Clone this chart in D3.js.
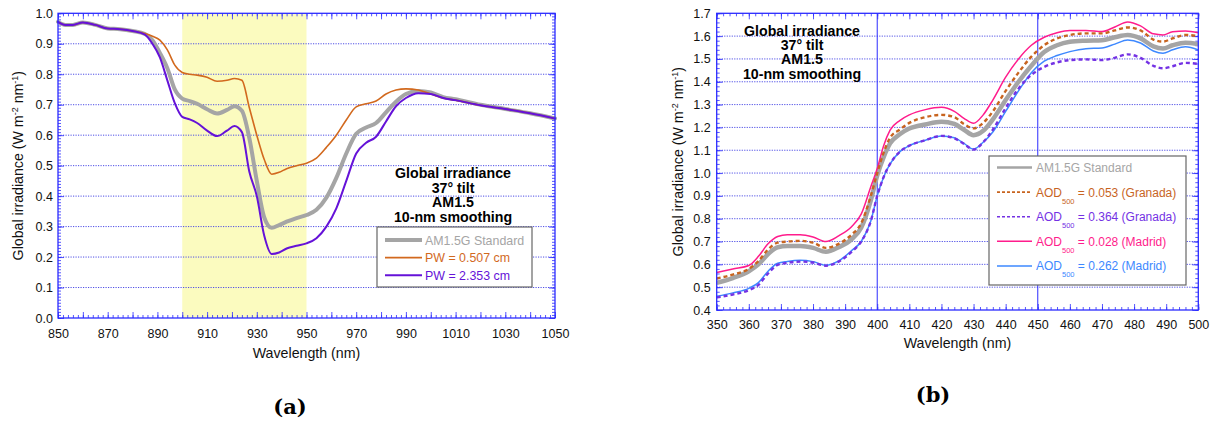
<!DOCTYPE html>
<html>
<head>
<meta charset="utf-8">
<script src="https://cdn.jsdelivr.net/npm/d3@7"></script>
<style>
  body { margin: 0; background: #fff; }
  svg { display: block; font-family: "Liberation Sans", Arial, Helvetica, sans-serif; }
</style>
</head>
<body>
<svg id="fig" width="1213" height="425"></svg>
<script>
// ---------- Panel (a): water-vapour band around 940 nm ----------
const wlA = [850, 853, 856, 860, 865, 870, 875, 880, 885, 888, 891, 894, 897, 900, 903, 906, 910, 914, 918, 921,
             924, 927, 930, 933, 936, 939, 942, 946, 950, 954, 958, 962, 966, 970, 974, 978, 982, 986, 990, 995,
             1000, 1005, 1010, 1020, 1030, 1040, 1050];
const am15gA = [0.972, 0.962, 0.962, 0.970, 0.962, 0.950, 0.948, 0.942, 0.932, 0.912, 0.870, 0.820, 0.750, 0.720, 0.712, 0.703, 0.685, 0.671, 0.683, 0.695,
                0.680, 0.590, 0.450, 0.330, 0.296, 0.305, 0.316, 0.328, 0.338, 0.355, 0.395, 0.460, 0.540, 0.605, 0.625, 0.640, 0.675, 0.710, 0.735, 0.745,
                0.740, 0.725, 0.718, 0.700, 0.686, 0.672, 0.655];
const pw0507 = [0.972, 0.962, 0.962, 0.970, 0.962, 0.950, 0.948, 0.942, 0.934, 0.925, 0.912, 0.880, 0.830, 0.806, 0.800, 0.797, 0.790, 0.777, 0.780, 0.786,
                0.780, 0.690, 0.600, 0.520, 0.472, 0.478, 0.490, 0.500, 0.508, 0.525, 0.560, 0.600, 0.650, 0.693, 0.703, 0.712, 0.735, 0.748, 0.752, 0.748,
                0.735, 0.722, 0.715, 0.698, 0.686, 0.672, 0.655];
const pw2353 = [0.972, 0.962, 0.962, 0.970, 0.962, 0.950, 0.948, 0.942, 0.930, 0.900, 0.855, 0.780, 0.705, 0.660, 0.652, 0.640, 0.615, 0.597, 0.615, 0.630,
                0.610, 0.480, 0.400, 0.270, 0.210, 0.215, 0.228, 0.237, 0.245, 0.262, 0.300, 0.360, 0.450, 0.540, 0.575, 0.595, 0.645, 0.695, 0.722, 0.738,
                0.735, 0.722, 0.715, 0.698, 0.686, 0.672, 0.655];
const bandA = [900, 950];
const xTicksA = [850, 870, 890, 910, 930, 950, 970, 990, 1010, 1030, 1050];
const yTicksA = [0.0, 0.1, 0.2, 0.3, 0.4, 0.5, 0.6, 0.7, 0.8, 0.9, 1.0];
const seriesNamesA = ["AM1.5G Standard", "PW = 0.507 cm", "PW = 2.353 cm"];

// ---------- Panel (b): UV/blue region, aerosol cases ----------
const wlB = [350, 355, 360, 363, 366, 369, 372, 376, 380, 384, 388, 392, 395, 398, 400, 402, 404, 407, 410, 415,
             420, 424, 427, 430, 433, 436, 440, 444, 448, 452, 456, 460, 465, 470, 474, 478, 482, 486, 489, 492, 496, 500];
const am15gB = [0.519, 0.540, 0.570, 0.600, 0.645, 0.675, 0.680, 0.680, 0.672, 0.655, 0.675, 0.710, 0.760, 0.880, 0.990, 1.070, 1.130, 1.170, 1.195, 1.213,
                1.225, 1.215, 1.190, 1.166, 1.185, 1.235, 1.320, 1.400, 1.470, 1.530, 1.560, 1.575, 1.580, 1.582, 1.595, 1.605, 1.590, 1.555, 1.546, 1.560, 1.571, 1.565];
const granada053 = [0.538, 0.555, 0.580, 0.615, 0.665, 0.695, 0.700, 0.703, 0.695, 0.672, 0.690, 0.730, 0.780, 0.900, 1.000, 1.090, 1.155, 1.190, 1.220, 1.245,
                    1.255, 1.245, 1.215, 1.196, 1.220, 1.270, 1.360, 1.440, 1.510, 1.560, 1.590, 1.605, 1.612, 1.612, 1.625, 1.638, 1.625, 1.585, 1.576, 1.590, 1.605, 1.600];
const granada364 = [0.455, 0.468, 0.487, 0.510, 0.560, 0.598, 0.607, 0.612, 0.608, 0.594, 0.612, 0.655, 0.700, 0.790, 0.900, 0.983, 1.040, 1.093, 1.120, 1.144,
                    1.163, 1.152, 1.128, 1.103, 1.135, 1.190, 1.285, 1.370, 1.430, 1.465, 1.485, 1.495, 1.498, 1.495, 1.505, 1.520, 1.505, 1.470, 1.459, 1.468, 1.483, 1.478];
const madrid028 = [0.564, 0.580, 0.595, 0.635, 0.690, 0.722, 0.730, 0.730, 0.720, 0.700, 0.725, 0.765, 0.820, 0.940, 1.020, 1.120, 1.188, 1.230, 1.255, 1.278,
                   1.288, 1.270, 1.240, 1.218, 1.255, 1.320, 1.420, 1.500, 1.560, 1.595, 1.615, 1.625, 1.625, 1.620, 1.640, 1.662, 1.645, 1.610, 1.605, 1.619, 1.622, 1.615];
const madrid262 = [0.460, 0.475, 0.495, 0.520, 0.570, 0.605, 0.613, 0.618, 0.612, 0.596, 0.615, 0.660, 0.700, 0.790, 0.900, 0.983, 1.040, 1.093, 1.120, 1.144,
                   1.162, 1.155, 1.130, 1.105, 1.135, 1.180, 1.270, 1.360, 1.440, 1.490, 1.515, 1.532, 1.545, 1.548, 1.565, 1.583, 1.570, 1.535, 1.525, 1.540, 1.553, 1.539];
const refLinesB = [400, 450];
const xTicksB = [350, 360, 370, 380, 390, 400, 410, 420, 430, 440, 450, 460, 470, 480, 490, 500];
const yTicksB = [0.4, 0.5, 0.6, 0.7, 0.8, 0.9, 1.0, 1.1, 1.2, 1.3, 1.4, 1.5, 1.6, 1.7];
const aodValuesB = ["0.053", "0.364", "0.028", "0.262"];
const sitesB = ["Granada", "Granada", "Madrid", "Madrid"];

const infoLines = ["Global irradiance", "37° tilt", "AM1.5", "10-nm smoothing"];

const AXIS = "#2b2bff";
const GRID = "#4f4fe6";
const svg = d3.select("#fig");

function drawFrame(g, x, y, o) {
  const [xl, xr] = x.range();
  const [yb, yt] = y.range();

  // horizontal dotted grid
  g.append("g").selectAll("line")
    .data(o.yTicks.slice(1, -1))
    .join("line")
    .attr("x1", xl).attr("x2", xr)
    .attr("y1", d => y(d)).attr("y2", d => y(d))
    .attr("stroke", GRID).attr("stroke-width", 1)
    .attr("stroke-dasharray", "1.2,1.3");

  // inward tick marks on all four sides
  const tickLayer = (axisFn, scale, values, size, tx, ty) => {
    const a = axisFn(scale).tickValues(values).tickSize(-size).tickFormat("");
    const t = g.append("g").attr("transform", `translate(${tx},${ty})`).call(a);
    t.select(".domain").remove();
    t.selectAll("line").attr("stroke", AXIS).attr("stroke-width", 0.8);
  };
  [[d3.axisBottom, 0, yb], [d3.axisTop, 0, yt]].forEach(([fn, tx, ty]) => {
    tickLayer(fn, x, o.xMinor, 3, tx, ty);
    tickLayer(fn, x, o.xMajor, 6, tx, ty);
  });
  [[d3.axisLeft, xl, 0], [d3.axisRight, xr, 0]].forEach(([fn, tx, ty]) => {
    tickLayer(fn, y, o.yMinor, 3, tx, ty);
    tickLayer(fn, y, o.yTicks, 6, tx, ty);
  });

  // tick labels
  const xl_ = g.append("g").attr("transform", `translate(0,${yb})`)
    .call(d3.axisBottom(x).tickValues(o.xTicks).tickSize(0).tickPadding(o.xPad).tickFormat(d3.format("d")));
  xl_.select(".domain").remove();
  xl_.selectAll("text").attr("font-size", 12.5).attr("fill", "#111").attr("font-family", null);

  const yl_ = g.append("g").attr("transform", `translate(${xl},0)`)
    .call(d3.axisLeft(y).tickValues(o.yTicks).tickSize(0).tickPadding(o.yPad).tickFormat(d3.format(".1f")));
  yl_.select(".domain").remove();
  yl_.selectAll("text").attr("font-size", 12.5).attr("fill", "#111").attr("font-family", null);

  // axis titles
  g.append("text")
    .attr("x", (xl + xr) / 2).attr("y", o.xTitleY)
    .attr("text-anchor", "middle").attr("font-size", 14.2).attr("fill", "#111")
    .text("Wavelength (nm)");
  const yt_ = g.append("text")
    .attr("transform", `translate(${o.yTitleX},${(yb + yt) / 2}) rotate(-90)`)
    .attr("text-anchor", "middle").attr("font-size", 14.2).attr("fill", "#111");
  yt_.append("tspan").text("Global irradiance (W m");
  yt_.append("tspan").attr("font-size", 9).attr("dy", -5).text("-2");
  yt_.append("tspan").attr("dy", 5).text(" nm");
  yt_.append("tspan").attr("font-size", 9).attr("dy", -5).text("-1");
  yt_.append("tspan").attr("dy", 5).text(")");
}

function drawBorder(g, x, y) {
  const [xl, xr] = x.range();
  const [yb, yt] = y.range();
  g.append("rect")
    .attr("x", xl).attr("y", yt).attr("width", xr - xl).attr("height", yb - yt)
    .attr("fill", "none").attr("stroke", AXIS).attr("stroke-width", 1.3);
}

function drawInfo(g, cx, y0, step) {
  g.append("g").selectAll("text")
    .data(infoLines)
    .join("text")
    .attr("x", cx).attr("y", (d, i) => y0 + i * step)
    .attr("text-anchor", "middle").attr("font-size", 14.2).attr("font-weight", "bold").attr("fill", "#000")
    .text(d => d);
}

// ================= Panel (a) =================
{
  const x = d3.scaleLinear().domain([850, 1050]).range([58, 555]);
  const y = d3.scaleLinear().domain([0, 1]).range([318, 13.3]);
  const g = svg.append("g");

  g.append("rect")
    .attr("x", x(bandA[0])).attr("y", y(1))
    .attr("width", x(bandA[1]) - x(bandA[0])).attr("height", y(0) - y(1))
    .attr("fill", "#fbfbbf");

  drawFrame(g, x, y, {
    xTicks: xTicksA, yTicks: yTicksA,
    xMajor: d3.range(850, 1051, 10),
    xMinor: d3.range(850, 1051, 2),
    yMinor: d3.range(0, 101).map(i => i / 100),
    xPad: 11, yPad: 5, xTitleY: 358, yTitleX: 23
  });

  const line = d3.line().x(d => x(d[0])).y(d => y(d[1])).curve(d3.curveMonotoneX);
  const seriesA = [
    { v: am15gA, color: "#a5a5a5", w: 4 },
    { v: pw0507, color: "#d2691e", w: 1.6 },
    { v: pw2353, color: "#6512d8", w: 2 }
  ];
  g.append("g").selectAll("path")
    .data(seriesA)
    .join("path")
    .attr("d", s => line(wlA.map((w, i) => [w, s.v[i]])))
    .attr("fill", "none").attr("stroke", s => s.color).attr("stroke-width", s => s.w)
    .attr("stroke-linejoin", "round").attr("stroke-linecap", "round");

  drawBorder(g, x, y);
  drawInfo(g, 453, 178, 14.6);

  // legend
  const lg = g.append("g").attr("transform", "translate(377,227)");
  lg.append("rect").attr("width", 155).attr("height", 60)
    .attr("fill", "#fff").attr("stroke", "#666").attr("stroke-width", 1.2);
  const rows = lg.selectAll("g.row").data(seriesA).join("g")
    .attr("transform", (d, i) => `translate(0,${13 + i * 17.6})`);
  rows.append("line").attr("x1", 8).attr("x2", 45)
    .attr("stroke", d => d.color).attr("stroke-width", d => d.w);
  rows.append("text").attr("x", 48).attr("y", 4.5)
    .attr("font-size", 12.4).attr("fill", d => d.color)
    .text((d, i) => seriesNamesA[i]);

  g.append("text").attr("x", 290).attr("y", 414)
    .attr("text-anchor", "middle").attr("font-family", "'DejaVu Serif', serif")
    .attr("font-weight", "bold").attr("font-size", 21).attr("fill", "#000")
    .text("(a)");
}

// ================= Panel (b) =================
{
  const x = d3.scaleLinear().domain([350, 500]).range([716.7, 1198.3]);
  const y = d3.scaleLinear().domain([0.4, 1.7]).range([310, 13.3]);
  const g = svg.append("g");

  drawFrame(g, x, y, {
    xTicks: xTicksB, yTicks: yTicksB,
    xMajor: d3.range(350, 501, 10),
    xMinor: d3.range(350, 501, 2),
    yMinor: d3.range(20, 86).map(i => i / 50),
    xPad: 10, yPad: 6, xTitleY: 348, yTitleX: 683
  });

  g.append("g").selectAll("line")
    .data(refLinesB)
    .join("line")
    .attr("x1", d => x(d)).attr("x2", d => x(d))
    .attr("y1", y.range()[0]).attr("y2", y.range()[1])
    .attr("stroke", AXIS).attr("stroke-width", 1);

  const line = d3.line().x(d => x(d[0])).y(d => y(d[1])).curve(d3.curveMonotoneX);
  const seriesB = [
    { v: am15gB, color: "#a5a5a5", w: 4.5, dash: null },
    { v: madrid262, color: "#3d88ff", w: 1.5, dash: null },
    { v: madrid028, color: "#ff1c8c", w: 1.5, dash: null },
    { v: granada053, color: "#c8641f", w: 2.4, dash: "4,3" },
    { v: granada364, color: "#7432e4", w: 2.4, dash: "4,3" }
  ];
  g.append("g").selectAll("path")
    .data(seriesB)
    .join("path")
    .attr("d", s => line(wlB.map((w, i) => [w, s.v[i]])))
    .attr("fill", "none").attr("stroke", s => s.color).attr("stroke-width", s => s.w)
    .attr("stroke-dasharray", s => s.dash)
    .attr("stroke-linejoin", "round");

  drawBorder(g, x, y);
  drawInfo(g, 802, 36, 14.2);

  // legend
  const legendB = [
    { color: "#a5a5a5", w: 2.5, dash: null, label: null },
    { color: "#c8641f", w: 1.6, dash: "3,2", label: 0 },
    { color: "#7432e4", w: 1.6, dash: "3,2", label: 1 },
    { color: "#ff1c8c", w: 1.5, dash: null, label: 2 },
    { color: "#3d88ff", w: 1.5, dash: null, label: 3 }
  ];
  const lg = g.append("g").attr("transform", "translate(989,156)");
  lg.append("rect").attr("width", 197).attr("height", 129)
    .attr("fill", "#fff").attr("stroke", "#666").attr("stroke-width", 1.2);
  const rows = lg.selectAll("g.row").data(legendB).join("g")
    .attr("transform", (d, i) => `translate(0,${11.5 + i * 24.6})`);
  rows.append("line").attr("x1", 8).attr("x2", 43)
    .attr("stroke", d => d.color).attr("stroke-width", d => d.w)
    .attr("stroke-dasharray", d => d.dash);
  const t = rows.append("text").attr("x", 47).attr("y", 4.5)
    .attr("font-size", 12).attr("fill", d => d.color);
  t.filter(d => d.label === null).text("AM1.5G Standard");
  const aod = t.filter(d => d.label !== null);
  aod.append("tspan").text("AOD");
  aod.append("tspan").attr("font-size", 7.5).attr("dy", 7).text("500");
  aod.append("tspan").attr("dy", -7).text(d => ` = ${aodValuesB[d.label]} (${sitesB[d.label]})`);

  g.append("text").attr("x", 933).attr("y", 402)
    .attr("text-anchor", "middle").attr("font-family", "'DejaVu Serif', serif")
    .attr("font-weight", "bold").attr("font-size", 21).attr("fill", "#000")
    .text("(b)");
}
</script>
</body>
</html>
